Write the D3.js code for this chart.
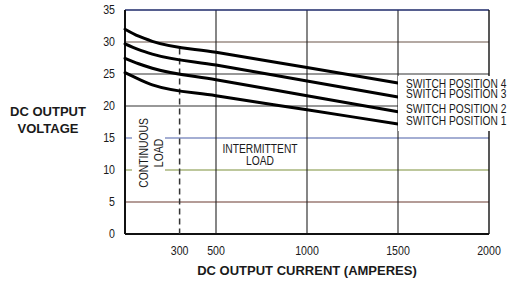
<!DOCTYPE html>
<html lang="en">
 <head>
 <meta charset="UTF-8">
        <title>DC output voltage vs current</title>
        <script type="text/javascript" src="https://unpkg.com/d3@7/dist/d3.min.js"></script>
        <style>
          body { margin: 0; background: #fff; }
          text { font-family: "Liberation Sans", Arial, sans-serif; fill: #1a1a1a; }
          .title { font-weight: bold; font-size: 13px; }
        </style>
 </head>

 <body>
        <script type="text/javascript">

          // amperes at which the curves were read
          var current = [0, 75, 150, 500, 1000, 1500];
          // volts, one list per switch position
          var position1 = [25.2, 24.2, 23.3, 21.6, 19.4, 17.2];
          var position2 = [27.45, 26.6, 25.9, 24.1, 21.6, 19.1];
          var position3 = [29.7, 28.8, 28.1, 26.4, 23.9, 21.4];
          var position4 = [32.0, 30.9, 30.1, 28.4, 26.0, 23.6];
          var seriesNames = ["SWITCH POSITION 4", "SWITCH POSITION 3", "SWITCH POSITION 2", "SWITCH POSITION 1"];
          var seriesValues = [position4, position3, position2, position1];

          var xTicks = [300, 500, 1000, 1500, 2000];
          var xGrid = [500, 1000, 1500];
          var yTicks = [0, 5, 10, 15, 20, 25, 30, 35];
          var continuousLimit = 300;

          var width = 508, height = 281;

          var svg = d3.select("body").append("svg")
                      .attr("width", width)
                      .attr("height", height);

          var x = d3.scaleLinear().domain([0, 2000]).range([125, 489]);
          var y = d3.scaleLinear().domain([0, 35]).range([234, 10]);

          // no narrow font installed, so squeeze the glyphs like the condensed original
          function condense(sel, k) {
            sel.each(function () {
              var len = this.getComputedTextLength();
              d3.select(this).attr("textLength", len * k).attr("lengthAdjust", "spacingAndGlyphs");
            });
          }

          // gridline tints from the scanned page
          var gridColor = { 5: "#6a3a30", 10: "#7c8f3a", 15: "#4a5ea8", 20: "#333", 25: "#333", 30: "#6b5548" };

          // horizontal grid
          svg.append("g").selectAll("line")
             .data(yTicks.filter(d => d > 0 && d < 35))
             .enter().append("line")
             .attr("x1", x(0)).attr("x2", x(2000))
             .attr("y1", d => y(d)).attr("y2", d => y(d))
             .style("stroke", d => gridColor[d])
             .style("stroke-width", 1.1);

          // vertical grid
          svg.append("g").selectAll("line")
             .data(xGrid)
             .enter().append("line")
             .attr("x1", d => x(d)).attr("x2", d => x(d))
             .attr("y1", y(0)).attr("y2", y(35))
             .style("stroke", "#222")
             .style("stroke-width", 1.1);

          // frame
          svg.append("line").attr("x1", x(0)).attr("x2", x(2000)).attr("y1", y(35)).attr("y2", y(35))
             .style("stroke", "#1e2a6a").style("stroke-width", 1.4);
          svg.append("line").attr("x1", x(2000)).attr("x2", x(2000)).attr("y1", y(35)).attr("y2", y(0))
             .style("stroke", "#111").style("stroke-width", 1.4);
          svg.append("line").attr("x1", x(0)).attr("x2", x(0)).attr("y1", y(35)).attr("y2", y(0))
             .style("stroke", "#111").style("stroke-width", 2);
          svg.append("line").attr("x1", x(0)).attr("x2", x(2000)).attr("y1", y(0)).attr("y2", y(0))
             .style("stroke", "#111").style("stroke-width", 2);

          // continuous / intermittent boundary
          svg.append("line")
             .attr("x1", x(continuousLimit)).attr("x2", x(continuousLimit))
             .attr("y1", y(29)).attr("y2", y(0))
             .style("stroke", "#333").style("stroke-width", 1.5)
             .style("stroke-dasharray", "6,4");

          // CONTINUOUS LOAD label on a white patch
          svg.append("rect").attr("x", 132).attr("y", 113).attr("width", 33).attr("height", 80)
             .style("fill", "#fff");
          var cont = svg.append("text")
             .attr("transform", "translate(148,153) rotate(-90)")
             .attr("text-anchor", "middle")
             .style("font-size", "12.5px");
          cont.append("tspan").attr("x", 0).attr("y", 0).text("CONTINUOUS");
          cont.append("tspan").attr("x", 0).attr("y", 15).text("LOAD");
          condense(cont.selectAll("tspan"), 0.83);

          var inter = svg.append("text")
             .attr("text-anchor", "middle")
             .style("font-size", "12.5px");
          inter.append("tspan").attr("x", 260).attr("y", 152.5).text("INTERMITTENT");
          inter.append("tspan").attr("x", 260).attr("y", 165).text("LOAD");
          condense(inter.selectAll("tspan"), 0.82);

          // curves
          var line = d3.line()
                       .x((d, i) => x(current[i]))
                       .y(d => y(d))
                       .curve(d3.curveMonotoneX);

          svg.append("g").selectAll("path")
             .data(seriesValues)
             .enter().append("path")
             .attr("d", d => line(d))
             .style("fill", "none")
             .style("stroke", "#000")
             .style("stroke-width", 3)
             .style("stroke-linecap", "round");

          // series labels on a white patch
          svg.append("rect").attr("x", 398).attr("y", 76).attr("width", 110).attr("height", 55)
             .style("fill", "#fff");
          var labelOffset = [1, -3, -3, -3];
          svg.append("g").selectAll("text")
             .data(seriesNames)
             .enter().append("text")
             .attr("x", 406)
             .attr("y", (d, i) => y(seriesValues[i][current.length - 1]) + labelOffset[i])
             .attr("dy", "0.35em")
             .style("font-size", "12px")
             .text(d => d)
             .call(condense, 0.85);

          // tick labels
          svg.append("g").selectAll("text")
             .data(yTicks)
             .enter().append("text")
             .attr("x", 115)
             .attr("y", d => y(d))
             .attr("dy", "0.35em")
             .attr("text-anchor", "end")
             .style("font-size", "12.5px")
             .text(d => d)
             .call(condense, 0.85);

          svg.append("g").selectAll("text")
             .data(xTicks)
             .enter().append("text")
             .attr("x", d => x(d))
             .attr("y", 255)
             .attr("text-anchor", "middle")
             .style("font-size", "12.5px")
             .text(d => d)
             .call(condense, 0.85);

          // axis titles
          var yTitle = svg.append("text").attr("class", "title").attr("text-anchor", "middle");
          yTitle.append("tspan").attr("x", 48).attr("y", 116).text("DC OUTPUT");
          yTitle.append("tspan").attr("x", 48).attr("y", 133).text("VOLTAGE");

          svg.append("text").attr("class", "title")
             .attr("x", 307).attr("y", 275)
             .attr("text-anchor", "middle")
             .text("DC OUTPUT CURRENT (AMPERES)");

        </script>
    </body>
</html>
